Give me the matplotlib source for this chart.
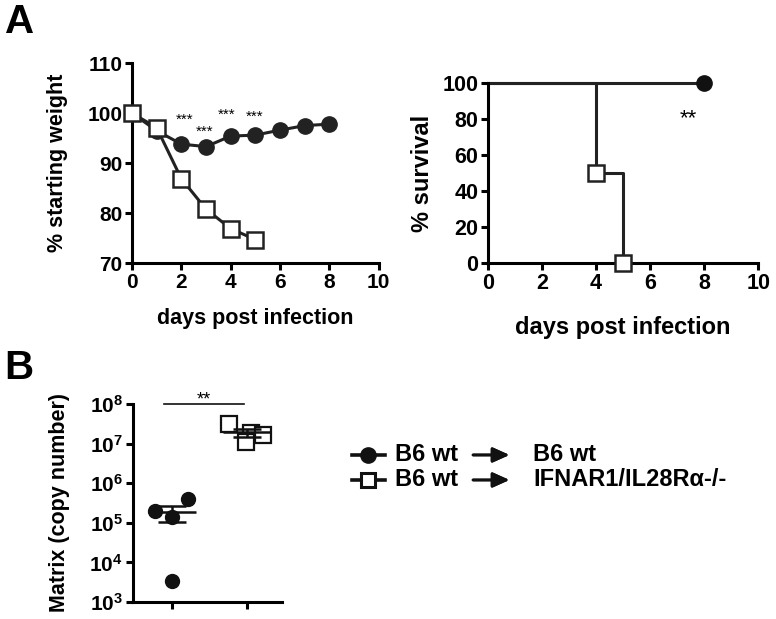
import matplotlib.pyplot as plt
from matplotlib.lines import Line2D
import numpy as np

plt.rcParams['font.family'] = ['Liberation Sans', 'DejaVu Sans']
plt.rcParams['font.weight'] = 'bold'

# weight curve
days = [0, 1, 2, 3, 4, 5, 6, 7, 8]
wt_weight = [100, 96.5, 93.8, 93.3, 95.4, 95.6, 96.6, 97.5, 97.8]
ko_days = [0, 1, 2, 3, 4, 5]
ko_weight = [100, 97.1, 86.9, 80.8, 76.9, 74.7]
star_x = [2.14, 2.95, 3.84, 4.97]
star_y = [98.6, 96.3, 99.6, 99.2]

# survival
surv_wt_t = [0, 8]
surv_wt = [100, 100]
surv_ko_t = [0, 4, 5]
surv_ko = [100, 50, 0]

# viral load
wt_vals = [2.0e5, 1.4e5, 3.9e5, 3.4e3]
wt_jit = [-0.22, 0.0, 0.22, 0.0]
ko_vals = [3.2e7, 1.8e7, 1.66e7, 1.12e7]
ko_jit = [-0.23, 0.06, 0.22, -0.01]

lw = 2.2
fig = plt.figure(figsize=(7.76, 6.19), dpi=100)


def style(ax, size=15):
    ax.spines['top'].set_visible(False)
    ax.spines['right'].set_visible(False)
    ax.spines['left'].set_linewidth(2.2)
    ax.spines['bottom'].set_linewidth(2.2)
    ax.tick_params(width=2.2, length=5, labelsize=size, pad=2)
    for t in ax.get_xticklabels() + ax.get_yticklabels():
        t.set_fontweight('bold')


# --- A left: weight
ax1 = fig.add_axes([0.170, 0.575, 0.318, 0.323])
ax1.plot(days, wt_weight, color='#222222', lw=lw, marker='o', ms=11,
         mfc='#222222', mec='#222222', clip_on=False, zorder=3)
ax1.plot(ko_days, ko_weight, color='#222222', lw=lw, marker='s', ms=11,
         mfc='white', mec='#222222', mew=1.8, clip_on=False, zorder=4)
for x, y in zip(star_x, star_y):
    ax1.text(x, y, '***', ha='center', va='center', fontsize=11, fontweight='normal')
ax1.set_xlim(0, 10)
ax1.set_ylim(70, 110)
ax1.set_xticks(range(0, 11, 2))
ax1.set_yticks(range(70, 111, 10))
ax1.set_xlabel('days post infection', fontsize=15.5, fontweight='bold', labelpad=12)
ax1.set_ylabel('% starting weight', fontsize=15.5, fontweight='bold', labelpad=14)
style(ax1)

# --- A right: survival
ax2 = fig.add_axes([0.629, 0.575, 0.348, 0.291])
ax2.step(surv_ko_t, surv_ko, where='post', color='#222222', lw=lw, clip_on=False)
ax2.plot(surv_wt_t, surv_wt, color='#222222', lw=lw, clip_on=False)
ax2.plot(surv_wt_t[-1], surv_wt[-1], 'o', color='#111111', ms=11, clip_on=False, zorder=5)
ax2.plot(surv_ko_t[1:], surv_ko[1:], 's', mfc='white', mec='#222222', mew=1.8,
         ms=11, clip_on=False, zorder=5)
ax2.text(7.4, 80, '**', ha='center', va='center', fontsize=16, fontweight='normal')
ax2.set_xlim(0, 10)
ax2.set_ylim(0, 100)
ax2.set_xticks(range(0, 11, 2))
ax2.set_yticks(range(0, 101, 20))
ax2.set_xlabel('days post infection', fontsize=17, fontweight='bold', labelpad=16)
ax2.set_ylabel('% survival', fontsize=17, fontweight='bold', labelpad=6)
style(ax2, 15.5)

# --- B: matrix copy number
ax3 = fig.add_axes([0.171, 0.0275, 0.193, 0.320])
ax3.set_yscale('log')
ax3.plot(np.array(wt_jit), wt_vals, 'o', color='#111111', ms=10, zorder=3)
ax3.plot(1 + np.array(ko_jit), ko_vals, 's', mfc='white', mec='#111111', mew=1.6,
         ms=11, zorder=3)
for i, vals in enumerate([wt_vals, ko_vals]):
    m = np.mean(vals)
    sem = np.std(vals, ddof=1) / np.sqrt(len(vals))
    ax3.hlines(m, i - 0.32, i + 0.32, color='#111111', lw=1.8, zorder=4)
    ax3.errorbar(i, m, yerr=sem, color='#111111', lw=1.8, capsize=10, capthick=1.8,
                 zorder=4)
ax3.plot([-0.1, 0.97], [1e8, 1e8], color='#111111', lw=1.2, clip_on=False)
ax3.text(0.43, 1.28e8, '**', ha='center', va='center', fontsize=13, fontweight='normal')
ax3.set_xlim(-0.52, 1.48)
ax3.set_ylim(1e3, 1e8)
ax3.set_xticks([0, 1])
ax3.set_xticklabels(['', ''])
ax3.set_yticks([1e3, 1e4, 1e5, 1e6, 1e7, 1e8])
ax3.minorticks_off()
ax3.set_ylabel('Matrix (copy number)', fontsize=15.5, fontweight='bold', labelpad=14)
style(ax3)

# legend drawn by hand
rows = [0.265, 0.2246]
targets = ['B6 wt', 'IFNAR1/IL28R\u03b1-/-']
for k, (yy, tgt) in enumerate(zip(rows, targets)):
    fig.add_artist(Line2D([0.4536, 0.496], [yy, yy], color='#111111', lw=2.6))
    if k == 0:
        fig.add_artist(Line2D([0.4748], [yy], marker='o', ms=11, color='#111111'))
    else:
        fig.add_artist(Line2D([0.4748], [yy], marker='s', ms=10, mfc='white',
                              mec='#111111', mew=2.2))
    fig.text(0.509, yy, 'B6 wt', fontsize=17, fontweight='bold', va='center')
    fig.add_artist(plt.annotate('', xy=(0.660, yy), xytext=(0.606, yy),
                                xycoords='figure fraction',
                                arrowprops=dict(arrowstyle='-|>,head_length=1.0,head_width=0.45',
                                                color='#111111', lw=2.0)))
    fig.text(0.687, yy, tgt, fontsize=17, fontweight='bold', va='center')

fig.text(0.006, 0.965, 'A', fontsize=29, fontweight='bold', va='center')
fig.text(0.006, 0.405, 'B', fontsize=29, fontweight='bold', va='center')

fig.savefig('out.png', dpi=100)
